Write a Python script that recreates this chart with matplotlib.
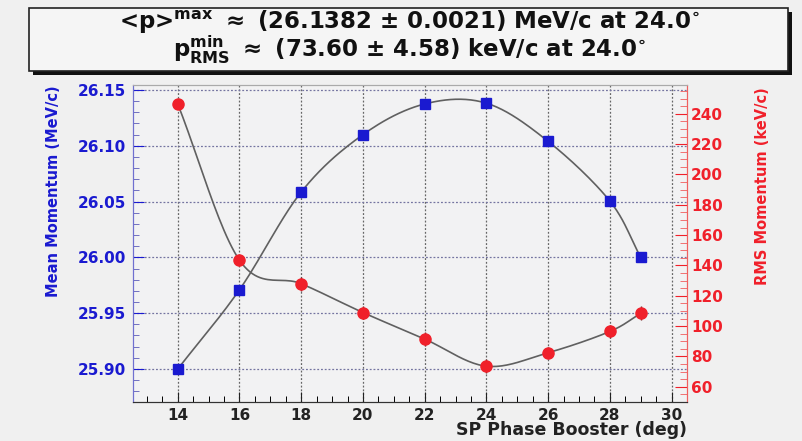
import numpy as np
import matplotlib.pyplot as plt
from matplotlib.patches import Rectangle
from matplotlib.ticker import MultipleLocator

plt.rcParams['font.family'] = ['DejaVu Sans']
plt.rcParams['font.weight'] = 'bold'
plt.rcParams['mathtext.fontset'] = 'custom'
plt.rcParams['mathtext.rm'] = 'DejaVu Sans:bold'
plt.rcParams['mathtext.it'] = 'DejaVu Sans:bold'
plt.rcParams['mathtext.bf'] = 'DejaVu Sans:bold'

# SP phase scan
phase = [14, 16, 18, 20, 22, 24, 26, 28, 29]
mean_p = [25.900, 25.971, 26.0586, 26.110, 26.1375, 26.1382, 26.104, 26.0505, 26.000]
mean_err = [0.002, 0.002, 0.002, 0.002, 0.002, 0.0021, 0.002, 0.002, 0.002]
rms_p = [246.5, 143.5, 128.0, 109.0, 91.5, 73.60, 82.5, 96.5, 108.5]
rms_err = [3.0, 3.0, 4.5, 4.5, 4.5, 4.58, 3.5, 4.0, 4.5]

title1 = r"<p>$^{\mathrm{max}}$ $\approx$ (26.1382 $\pm$ 0.0021) MeV/c at 24.0$^{\circ}$"
title2 = r"p$^{\mathrm{min}}_{\mathrm{RMS}}$ $\approx$ (73.60 $\pm$ 4.58) keV/c at 24.0$^{\circ}$"

BLUE = '#1a1ad0'
RED = '#f0202a'
BG = '#f0f0f0'
W, H = 803, 441


def smooth(x, y, n=25):
    # Catmull-Rom curve through the points
    x = np.asarray(x, float)
    y = np.asarray(y, float)
    px = np.concatenate([[2 * x[0] - x[1]], x, [2 * x[-1] - x[-2]]])
    py = np.concatenate([[2 * y[0] - y[1]], y, [2 * y[-1] - y[-2]]])
    xs, ys = [], []
    t = np.linspace(0, 1, n)
    for i in range(1, len(px) - 2):
        for p, out in ((px, xs), (py, ys)):
            p0, p1, p2, p3 = p[i - 1], p[i], p[i + 1], p[i + 2]
            out.extend(0.5 * (2 * p1 + (-p0 + p2) * t
                              + (2 * p0 - 5 * p1 + 4 * p2 - p3) * t ** 2
                              + (-p0 + 3 * p1 - 3 * p2 + p3) * t ** 3))
    return np.array(xs), np.array(ys)


fig = plt.figure(figsize=(W / 100, H / 100), dpi=100, facecolor=BG)
ax = fig.add_axes([133 / W, 1 - 402 / H, (687 - 133) / W, (402 - 85) / H])
ax.set_facecolor('#f2f2f3')
ax2 = ax.twinx()

# grid
for xv in range(14, 31, 2):
    ax.axvline(xv, color='#666666', lw=0.9, ls=(0, (1.5, 1.5)), zorder=0.5)
for yv in np.arange(25.90, 26.151, 0.05):
    ax.axhline(yv, color='#7474a0', lw=0.9, ls=(0, (1.5, 1.5)), zorder=0.5)

# mean momentum
sx, sy = smooth(phase, mean_p)
ax.plot(sx, sy, color='#606060', lw=1.2, zorder=2)
ax.errorbar(phase, mean_p, yerr=mean_err, fmt='s', ms=6.5, color=BLUE,
            ecolor='#202060', elinewidth=1, capsize=0, zorder=3)

# rms momentum
rx, ry = smooth(phase, rms_p)
ax2.plot(rx, ry, color='#606060', lw=1.2, zorder=2)
ax2.errorbar(phase, rms_p, yerr=rms_err, fmt='o', ms=8, color=RED,
             ecolor='#702020', elinewidth=1, capsize=0, zorder=3)

ax.set_xlim(12.55, 30.5)
ax.set_ylim(25.8704, 26.1545)
ax2.set_ylim(50.0, 259.0)

ax.xaxis.set_major_locator(MultipleLocator(2))
ax.xaxis.set_minor_locator(MultipleLocator(0.5))
ax.yaxis.set_major_locator(MultipleLocator(0.05))
ax.yaxis.set_minor_locator(MultipleLocator(0.01))
ax2.yaxis.set_major_locator(MultipleLocator(20))
ax2.yaxis.set_minor_locator(MultipleLocator(5))
ax.yaxis.set_major_formatter(lambda v, p: '%.2f' % v)

ax.tick_params(axis='x', direction='in', length=7, width=0.8, labelsize=11,
               pad=4, colors='#222222')
ax.tick_params(axis='x', which='minor', direction='in', length=4, width=0.7)
ax.tick_params(axis='y', direction='in', length=8, width=0.8, labelsize=11,
               colors=BLUE, pad=5)
ax.tick_params(axis='y', which='minor', direction='in', length=4, width=0.7,
               colors='#7070c0')
ax2.tick_params(axis='y', direction='in', length=9, width=0.8, labelsize=11,
                colors=RED, pad=3)
ax2.tick_params(axis='y', which='minor', direction='in', length=5, width=0.7,
                colors='#f07070')

for a in (ax, ax2):
    a.spines['top'].set_color('#aaaaaa')
    a.spines['bottom'].set_color('#333333')
    a.spines['left'].set_color('#7070d0')
    a.spines['right'].set_color('#f06060')

# axis titles
fig.text(54 / W, 1 - 85 / H, 'Mean Momentum (MeV/c)', rotation=90, va='top',
         ha='center', color=BLUE, fontsize=10.5)
fig.text(763 / W, 1 - 87 / H, 'RMS Momentum (keV/c)', rotation=90, va='top',
         ha='center', color=RED, fontsize=10.5)
fig.text(687 / W, 1 - 430 / H, 'SP Phase Booster (deg)', ha='right',
         va='center', color='#222222', fontsize=12.5)

# title box with shadow
bx0, bx1, by0, by1 = 29, 788, 8, 71
fig.patches.append(Rectangle(((bx0 + 4) / W, 1 - (by1 + 4) / H), (bx1 - bx0) / W,
                             (by1 - by0) / H, transform=fig.transFigure,
                             facecolor='#111111', edgecolor='none'))
fig.patches.append(Rectangle((bx0 / W, 1 - by1 / H), (bx1 - bx0) / W,
                             (by1 - by0) / H, transform=fig.transFigure,
                             facecolor='#f5f5f5', edgecolor='#222222', lw=1.2))
fig.text(409 / W, 1 - 29 / H, title1, ha='center', va='baseline',
         fontsize=16.5, color='#111111')
fig.text(410 / W, 1 - 58 / H, title2, ha='center', va='baseline',
         fontsize=16.5, color='#111111')

fig.savefig('out.png', dpi=100, facecolor=BG)
